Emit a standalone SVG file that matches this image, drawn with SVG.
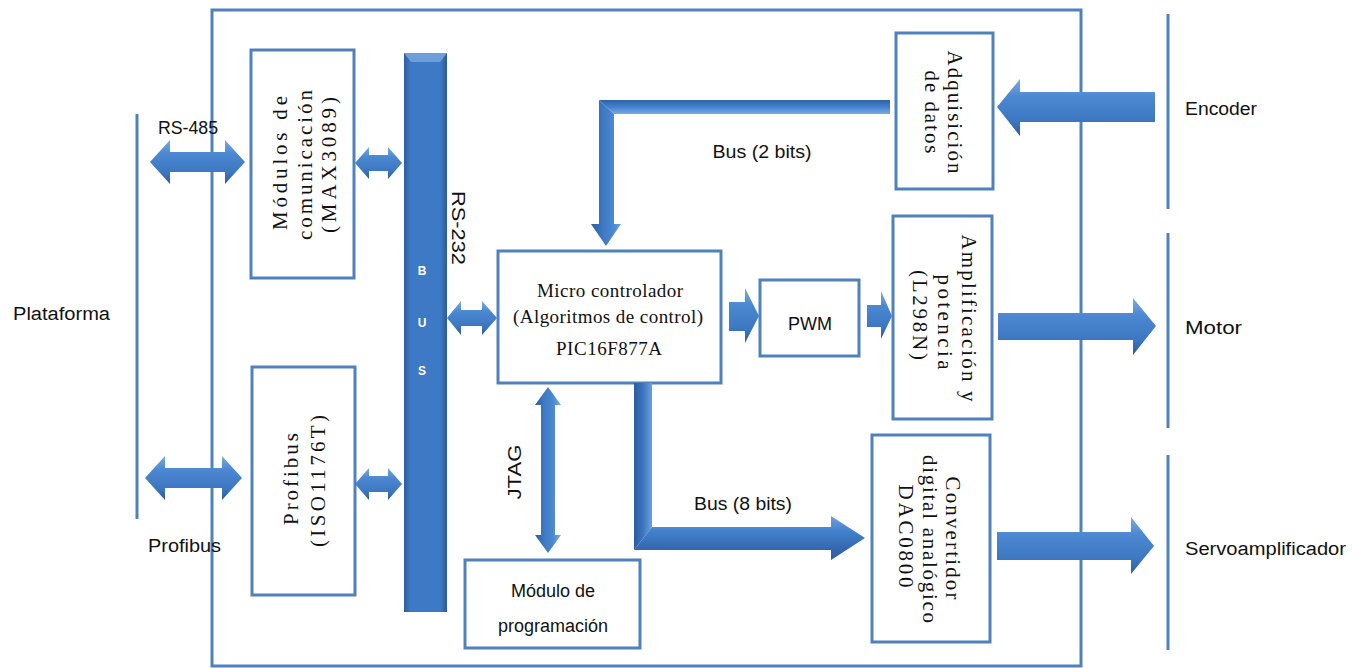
<svg xmlns="http://www.w3.org/2000/svg" width="1362" height="668" viewBox="0 0 1362 668">
  <defs>
    <linearGradient id="gH" x1="0" y1="0" x2="0" y2="1">
      <stop offset="0" stop-color="#7BAAE2"/>
      <stop offset="0.3" stop-color="#4C89D2"/>
      <stop offset="0.75" stop-color="#3C76C0"/>
      <stop offset="1" stop-color="#2B5C9C"/>
    </linearGradient>
    <linearGradient id="gV" x1="0" y1="0" x2="1" y2="0">
      <stop offset="0" stop-color="#2B5C9C"/>
      <stop offset="0.3" stop-color="#3C76C0"/>
      <stop offset="0.7" stop-color="#4C89D2"/>
      <stop offset="1" stop-color="#7BAAE2"/>
    </linearGradient>
    <!-- shaft gradients for the two bent buses, in user space -->
    <linearGradient id="g2h" gradientUnits="userSpaceOnUse" x1="0" y1="100" x2="0" y2="114">
      <stop offset="0" stop-color="#2F63A6"/>
      <stop offset="0.5" stop-color="#4281CE"/>
      <stop offset="1" stop-color="#7BAAE2"/>
    </linearGradient>
    <linearGradient id="g2v" gradientUnits="userSpaceOnUse" x1="591" y1="0" x2="621" y2="0">
      <stop offset="0" stop-color="#2B5C9C"/>
      <stop offset="0.35" stop-color="#3C76C0"/>
      <stop offset="0.75" stop-color="#4C89D2"/>
      <stop offset="1" stop-color="#6E9FDB"/>
    </linearGradient>
    <linearGradient id="g8v" gradientUnits="userSpaceOnUse" x1="634" y1="0" x2="652" y2="0">
      <stop offset="0" stop-color="#2B5C9C"/>
      <stop offset="0.5" stop-color="#3C76C0"/>
      <stop offset="1" stop-color="#6E9FDB"/>
    </linearGradient>
    <linearGradient id="g8h" gradientUnits="userSpaceOnUse" x1="0" y1="516" x2="0" y2="560">
      <stop offset="0" stop-color="#6E9FDB"/>
      <stop offset="0.35" stop-color="#4281CE"/>
      <stop offset="0.75" stop-color="#3467AE"/>
      <stop offset="1" stop-color="#2B5C9C"/>
    </linearGradient>
    <linearGradient id="gBar" x1="0" y1="0" x2="1" y2="0">
      <stop offset="0" stop-color="#2D5E9F"/>
      <stop offset="0.15" stop-color="#3D79C4"/>
      <stop offset="0.85" stop-color="#3D79C4"/>
      <stop offset="1" stop-color="#2B5A98"/>
    </linearGradient>
    <style>
      .box { fill: #ffffff; stroke: #4F81BD; stroke-width: 3; }
      .frame { fill: none; stroke: #4F81BD; stroke-width: 3; }
      .line { stroke: #4F81BD; stroke-width: 3; fill: none; }
      .sans { font-family: "Liberation Sans", Arial, sans-serif; font-size: 18px; fill: #111; }
      .serif { font-family: "Liberation Serif", "Times New Roman", serif; font-size: 19px; fill: #111; }
      .rot { font-size: 21px; }
      .ah { fill: url(#gH); }
      .av { fill: url(#gV); }
      .mid { text-anchor: middle; }
      .busl { font-family: "Liberation Sans", Arial, sans-serif; font-size: 12px; font-weight: bold; fill: #ffffff; text-anchor: middle; }
    </style>
  </defs>

  <!-- system enclosure and external boundary lines -->
  <rect class="frame" x="212" y="10" width="869" height="656"/>
  <line class="line" x1="137" y1="114" x2="137" y2="519"/>
  <line class="line" x1="1168" y1="14" x2="1168" y2="209"/>
  <line class="line" x1="1168" y1="233" x2="1168" y2="428"/>
  <line class="line" x1="1168" y1="455" x2="1168" y2="650"/>

  <!-- external labels -->
  <text class="sans" x="13" y="320" textLength="97" lengthAdjust="spacingAndGlyphs">Plataforma</text>
  <text class="sans" x="158" y="134" textLength="60" lengthAdjust="spacingAndGlyphs">RS-485</text>
  <text class="sans" x="148" y="552" textLength="73" lengthAdjust="spacingAndGlyphs">Profibus</text>
  <text class="sans" x="1185" y="115" textLength="72" lengthAdjust="spacingAndGlyphs">Encoder</text>
  <text class="sans" x="1185" y="334" textLength="57" lengthAdjust="spacingAndGlyphs">Motor</text>
  <text class="sans" x="1185" y="555" textLength="161" lengthAdjust="spacingAndGlyphs">Servoamplificador</text>

  <!-- internal bus -->
  <g id="bus">
    <rect x="404" y="53" width="43" height="559" fill="url(#gBar)"/>
    <polygon points="404,53 447,53 440,62 411,62" fill="#6E9FDB"/>
    <text class="busl" x="422" y="275">B</text>
    <text class="busl" x="422" y="327">U</text>
    <text class="busl" x="422" y="375">S</text>
  </g>

  <g id="modulos-comunicacion">
    <rect class="box" x="251" y="50" width="103" height="228"/>
    <text class="serif rot mid" transform="translate(287,163) rotate(-90)" textLength="134" lengthAdjust="spacing">Módulos de</text>
    <text class="serif rot mid" transform="translate(312,165) rotate(-90)" textLength="150" lengthAdjust="spacing">comunicación</text>
    <text class="serif rot mid" transform="translate(336,165) rotate(-90)" textLength="136" lengthAdjust="spacing">(MAX3089)</text>
  </g>

  <g id="profibus">
    <rect class="box" x="252" y="367" width="103" height="228"/>
    <text class="serif rot mid" transform="translate(298,479) rotate(-90)" textLength="92" lengthAdjust="spacing">Profibus</text>
    <text class="serif rot mid" transform="translate(325,481) rotate(-90)" textLength="132" lengthAdjust="spacing">(ISO1176T)</text>
  </g>

  <g id="microcontrolador">
    <rect class="box" x="498" y="251" width="223" height="132"/>
    <text class="serif mid" x="610" y="297" textLength="146" lengthAdjust="spacing">Micro controlador</text>
    <text class="serif mid" x="608" y="323" textLength="190" lengthAdjust="spacing">(Algoritmos de control)</text>
    <text class="serif mid" x="609" y="355" textLength="106" lengthAdjust="spacing">PIC16F877A</text>
  </g>

  <g id="pwm">
    <rect class="box" x="760" y="280" width="99" height="76"/>
    <text class="sans mid" x="810" y="330" font-size="19">PWM</text>
  </g>

  <g id="adquisicion">
    <rect class="box" x="896" y="33" width="97" height="156"/>
    <text class="serif rot mid" transform="translate(948,112) rotate(90)" textLength="123" lengthAdjust="spacing">Adquisición</text>
    <text class="serif rot mid" transform="translate(925,112) rotate(90)" textLength="83" lengthAdjust="spacing">de datos</text>
  </g>

  <g id="amplificacion">
    <rect class="box" x="893" y="216" width="99" height="203"/>
    <text class="serif rot mid" transform="translate(962,318) rotate(90)" textLength="167" lengthAdjust="spacing">Amplificación y</text>
    <text class="serif rot mid" transform="translate(938,322) rotate(90)" textLength="95" lengthAdjust="spacing">potencia</text>
    <text class="serif rot mid" transform="translate(913,315) rotate(90)" textLength="90" lengthAdjust="spacing">(L298N)</text>
  </g>

  <g id="convertidor">
    <rect class="box" x="872" y="435" width="118" height="207"/>
    <text class="serif rot mid" transform="translate(946,538) rotate(90)" textLength="123" lengthAdjust="spacing">Convertidor</text>
    <text class="serif rot mid" transform="translate(923,539) rotate(90)" textLength="168" lengthAdjust="spacing">digital analógico</text>
    <text class="serif rot mid" transform="translate(899,536) rotate(90)" textLength="103" lengthAdjust="spacing">DAC0800</text>
  </g>

  <g id="modulo-programacion">
    <rect class="box" x="465" y="560" width="175" height="88"/>
    <text class="sans mid" x="553" y="597">Módulo de</text>
    <text class="sans mid" x="553" y="632">programación</text>
  </g>

  <!-- connectors -->
  <g id="connectors">
    <!-- RS-485 link -->
    <path class="ah" d="M150,162 L170,140 L170,152 L225,152 L225,140 L245,162 L225,184 L225,172 L170,172 L170,184 Z"/>
    <!-- Profibus link -->
    <path class="ah" d="M145,478 L165,456 L165,468 L222,468 L222,456 L242,478 L222,500 L222,488 L165,488 L165,500 Z"/>
    <!-- comms modules to bus -->
    <path class="ah" d="M355,163 L369,147 L369,155 L388,155 L388,147 L402,163 L388,179 L388,171 L369,171 L369,179 Z"/>
    <path class="ah" d="M355,484 L369,468 L369,476 L388,476 L388,468 L402,484 L388,500 L388,492 L369,492 L369,500 Z"/>
    <!-- RS-232: bus to microcontroller -->
    <path class="ah" d="M447,318 L461,301 L461,310 L482,310 L482,301 L497,318 L482,335 L482,326 L461,326 L461,335 Z"/>
    <text class="sans mid" transform="translate(452,228) rotate(90)" textLength="74" lengthAdjust="spacingAndGlyphs">RS-232</text>
    <!-- microcontroller to PWM to amplifier -->
    <path class="ah" d="M729,302 L745,302 L745,288 L759,316 L745,343 L745,331 L729,331 Z"/>
    <path class="ah" d="M867,305 L881,305 L881,291 L892,316 L881,339 L881,327 L867,327 Z"/>
    <!-- Bus (2 bits): acquisition to microcontroller -->
    <g id="bus-2bits">
      <polygon points="599,100 890,100 890,114 614,114" fill="url(#g2h)"/>
      <polygon points="599,100 614,114 614,224 621,224 606,246 591,224 599,224" fill="url(#g2v)"/>
    </g>
    <text class="sans mid" x="762" y="158" textLength="99" lengthAdjust="spacingAndGlyphs">Bus (2 bits)</text>
    <!-- Bus (8 bits): microcontroller to DAC -->
    <g id="bus-8bits">
      <polygon points="634,383 652,383 652,527 634,550" fill="url(#g8v)"/>
      <polygon points="634,550 652,527 831,527 831,516 865,538 831,560 831,550" fill="url(#g8h)"/>
    </g>
    <text class="sans mid" x="743" y="510" textLength="98" lengthAdjust="spacingAndGlyphs">Bus (8 bits)</text>
    <!-- JTAG: microcontroller to programming module -->
    <path class="av" d="M548,387 L561,405 L555,405 L555,535 L561,535 L548,553 L535,535 L541,535 L541,405 L535,405 Z"/>
    <text class="sans mid" transform="translate(521,472) rotate(-90)" textLength="55" lengthAdjust="spacingAndGlyphs">JTAG</text>
    <!-- field signals -->
    <path class="ah" d="M997,107 L1020,79 L1020,92 L1155,92 L1155,122 L1020,122 L1020,136 Z"/>
    <path class="ah" d="M998,313 L1133,313 L1133,298 L1156,326 L1133,355 L1133,340 L998,340 Z"/>
    <path class="ah" d="M997,532 L1131,532 L1131,517 L1154,546 L1131,574 L1131,560 L997,560 Z"/>
  </g>
</svg>
